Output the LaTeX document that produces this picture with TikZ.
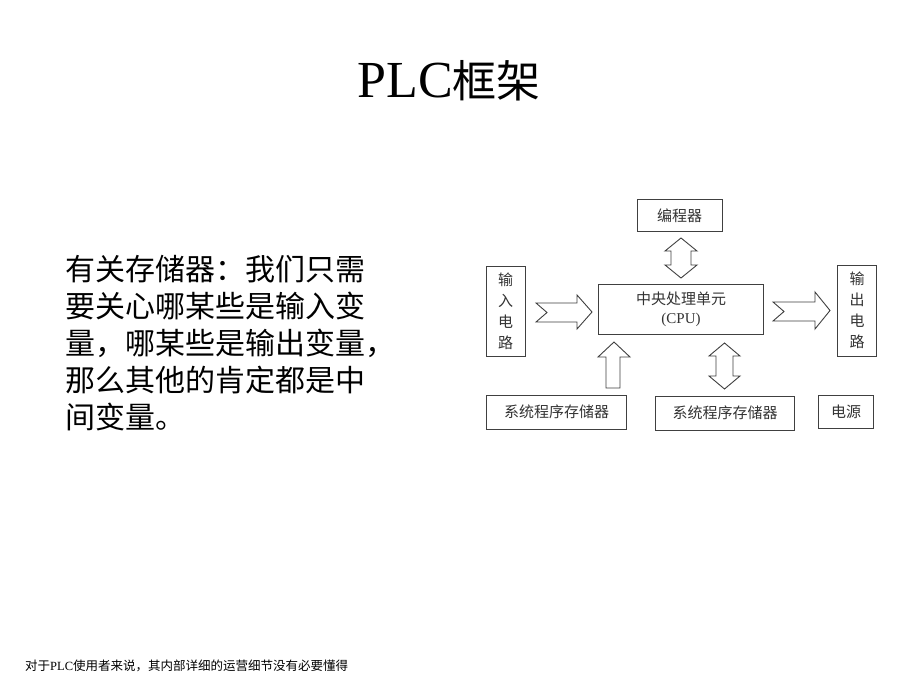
\documentclass[tikz,border=0pt]{standalone}
\usepackage{fontspec}
\setmainfont{Liberation Serif}
\newfontfamily\cjk{Noto Sans CJK SC}
\definecolor{ln}{HTML}{404040}
\definecolor{tx}{HTML}{333333}
\begin{document}
\begin{tikzpicture}[x=1pt,y=-1pt,
  box/.style={draw=ln,line width=0.9pt,inner sep=0pt,text=tx,font=\cjk\fontsize{15}{18}\selectfont},
  blk/.style={draw=ln,line width=0.9pt,fill=white,line join=miter},
  body/.style={anchor=base west,inner sep=0pt,font=\cjk\fontsize{30}{30}\selectfont}]
\useasboundingbox[fill=white] (0,0) rectangle (920,690);
% title
\node[anchor=base,inner sep=0pt] (title) at (449,98)
  {\fontsize{52}{52}\selectfont PLC{\cjk\fontsize{44}{44}\selectfont 框架}};
% body text
\node[body] (l1) at (65,280) {有关存储器：我们只需};
\node[body] (l2) at (65,317) {要关心哪某些是输入变};
\node[body] (l3) at (65,354) {量，哪某些是输出变量，};
\node[body] (l4) at (65,391) {那么其他的肯定都是中};
\node[body] (l5) at (65,428) {间变量。};
% footer
\node[anchor=base west,inner sep=0pt] (foot) at (25,670)
  {\fontsize{12.5}{12.5}\selectfont{\cjk 对于}PLC{\cjk 使用者来说，其内部详细的运营细节没有必要懂得}};
% boxes
\node[box,minimum width=85pt,minimum height=32.5pt] (prog) at (679.5,215.5) {编程器};
\node[box,minimum width=39pt,minimum height=90pt,align=center,font=\cjk\fontsize{15}{21}\selectfont] (inp) at (505.5,311) {输\\入\\电\\路};
\node[box,minimum width=165pt,minimum height=50pt,align=center,font=\cjk\fontsize{15}{19}\selectfont] (cpu) at (681,309) {中央处理单元\\{\rmfamily\fontsize{15}{19}\selectfont (CPU)}};
\node[box,minimum width=39pt,minimum height=91pt,align=center,font=\cjk\fontsize{15}{21}\selectfont] (outp) at (857,310.5) {输\\出\\电\\路};
\node[box,minimum width=140pt,minimum height=34pt] (mem1) at (556.5,412) {系统程序存储器};
\node[box,minimum width=139pt,minimum height=34pt] (mem2) at (725,413) {系统程序存储器};
\node[box,minimum width=55pt,minimum height=33pt] (pwr) at (846,411.5) {电源};
% block arrows
% programmer <-> cpu (double vertical)
\draw[blk] (681,238) -- (697,251) -- (691,251) -- (691,265) -- (697,265) -- (681,278)
  -- (665,265) -- (671,265) -- (671,251) -- (665,251) -- cycle;
% input -> cpu (notched)
\draw[blk] (536,303) -- (577,303) -- (577,295) -- (592,312) -- (577,329) -- (577,322)
  -- (536,322) -- (547,312.5) -- cycle;
% cpu -> output (notched)
\draw[blk] (773,302) -- (815,302) -- (815,292) -- (830,310.5) -- (815,329) -- (815,321)
  -- (773,321) -- (784,311.5) -- cycle;
% mem1 -> cpu (single up)
\draw[blk] (614,342) -- (630,357) -- (620,357) -- (620,388) -- (606,388) -- (606,357)
  -- (598,357) -- cycle;
% mem2 <-> cpu (double vertical)
\draw[blk] (724.5,343) -- (740,356) -- (733,356) -- (733,376) -- (740,376) -- (724.5,389)
  -- (709,376) -- (716,376) -- (716,356) -- (709,356) -- cycle;
\end{tikzpicture}
\end{document}
